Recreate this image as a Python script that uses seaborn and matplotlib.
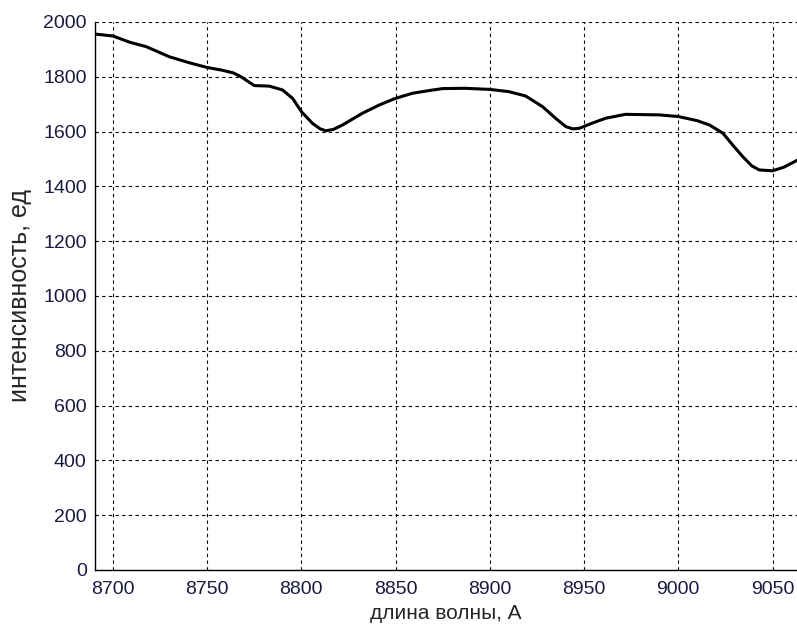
import numpy as np
import pandas as pd
import matplotlib
matplotlib.use('Agg')
import matplotlib.pyplot as plt
import seaborn as sns

# ── Data ──────────────────────────────────────────────────────────────────────
wavelength = [8690.5, 8700, 8709, 8717.7, 8730, 8740.7, 8750, 8758, 8764, 8768,
              8775, 8783, 8790, 8795.4, 8800, 8805.9, 8810, 8813, 8817, 8821.8,
              8832.4, 8841.3, 8849.8, 8859, 8868, 8875, 8887, 8900, 8910, 8919,
              8928, 8935, 8940.4, 8944, 8947.5, 8954, 8961.6, 8972, 8989.9, 9000,
              9010, 9016.6, 9023.7, 9029, 9034.3, 9039, 9043, 9050, 9056, 9063]
intensity = [1956, 1949, 1926, 1910, 1873, 1851, 1834, 1824, 1814, 1800,
             1768, 1766, 1752, 1721, 1673, 1630, 1610, 1603, 1608, 1624,
             1667, 1697, 1721, 1740, 1750, 1757, 1758, 1754, 1746, 1730,
             1691, 1648, 1618, 1610, 1612, 1630, 1649, 1663, 1661, 1655,
             1640, 1624, 1594, 1550, 1508, 1475, 1460, 1457, 1470, 1495]

x_ticks = [8700, 8750, 8800, 8850, 8900, 8950, 9000, 9050]
y_ticks = list(range(0, 2001, 200))

df = pd.DataFrame({'wl': wavelength, 'I': intensity})

# ── Plot ──────────────────────────────────────────────────────────────────────
sns.set_style('white')
plt.rcParams['font.family'] = ['Liberation Sans', 'DejaVu Sans']

fig = plt.figure(figsize=(7.97, 6.3), dpi=100)
ax = fig.add_axes([95 / 797, 60 / 630, 1 - 95 / 797, 548 / 630])

sns.lineplot(data=df, x='wl', y='I', ax=ax, color='black', linewidth=2.2)

ax.set_xlim(8690.5, 9063)
ax.set_ylim(0, 2000)
ax.set_xticks(x_ticks)
ax.set_yticks(y_ticks)

for lab in ax.get_xticklabels() + ax.get_yticklabels():
    lab.set_fontsize(14)
    lab.set_color('#1a1a40')

ax.tick_params(axis='x', direction='in', length=5, width=0.8, color='black', pad=8)
ax.tick_params(axis='y', direction='in', length=5, width=0.8, color='black', pad=6)
ax.grid(True, color='black', linestyle=(0, (3, 3)), linewidth=0.8)

for side in ['top', 'right']:
    ax.spines[side].set_visible(False)
for side in ['left', 'bottom']:
    ax.spines[side].set_color('black')
    ax.spines[side].set_linewidth(1.0)

ax.set_xlabel('длина волны, А', fontsize=15, labelpad=4)
ax.set_ylabel('интенсивность, ед', fontsize=18, labelpad=8)

fig.savefig('out.png', dpi=100)
